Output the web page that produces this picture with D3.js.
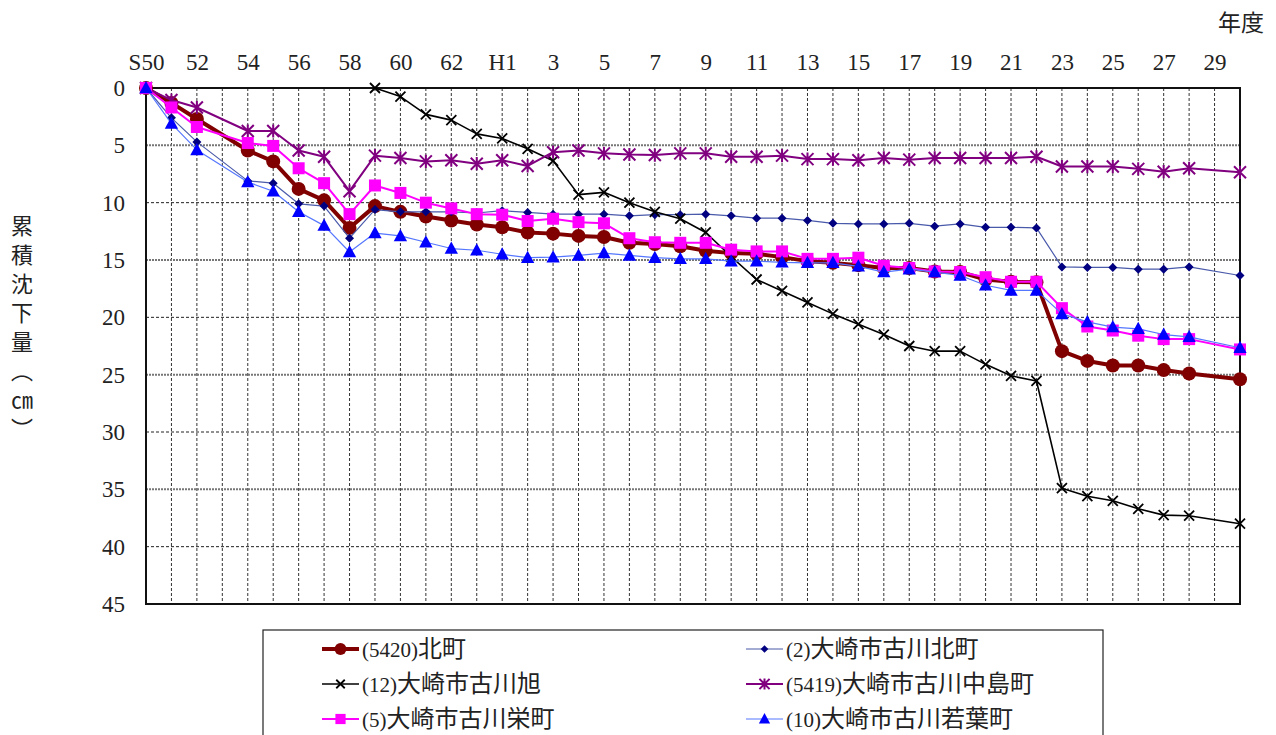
<!DOCTYPE html>
<html>
<head>
<meta charset="utf-8">
<script src="https://cdn.jsdelivr.net/npm/d3@7"></script>
<style>
  body { margin: 0; background: #fff; }
  svg text { font-family: "Liberation Serif", "Noto Sans CJK JP", serif; fill: #222; }
</style>
</head>
<body>
<div id="chart"></div>
<script>
// fiscal years S50 (1975) .. H30 (2018)
var years = [1975, 1976, 1977, 1978, 1979, 1980, 1981, 1982, 1983, 1984, 1985, 1986, 1987, 1988, 1989,
  1990, 1991, 1992, 1993, 1994, 1995, 1996, 1997, 1998, 1999, 2000, 2001, 2002, 2003, 2004, 2005,
  2006, 2007, 2008, 2009, 2010, 2011, 2012, 2013, 2014, 2015, 2016, 2017, 2018];

var tickYears = [1975, 1977, 1979, 1981, 1983, 1985, 1987, 1989, 1991, 1993, 1995, 1997, 1999, 2001,
  2003, 2005, 2007, 2009, 2011, 2013, 2015, 2017];
var tickLabels = ["S50", "52", "54", "56", "58", "60", "62", "H1", "3", "5", "7", "9", "11", "13",
  "15", "17", "19", "21", "23", "25", "27", "29"];

var yTicks = [0, 5, 10, 15, 20, 25, 30, 35, 40, 45];

// cumulative subsidence (cm), null = not surveyed
var kitamachi5420 = [0, 1.3, 2.7, null, 5.45, 6.4, 8.8, 9.8, 12.2, 10.3, 10.8, 11.2, 11.55, 11.9, 12.15,
  12.6, 12.7, 12.9, 13.0, 13.5, 13.6, 13.8, 14.2, 14.4, 14.45, 14.75, 15.1, 15.25, 15.45, 15.7, 15.7,
  16.0, 16.05, 16.7, 16.9, 16.95, 22.95, 23.8, 24.2, 24.2, 24.6, 24.9, null, 25.4];
var kitamachi2 = [0, 2.6, 4.7, null, 8.1, 8.3, 10.1, 10.3, 13.1, 10.6, 10.8, 10.8, 10.8, 10.9, 10.7,
  10.85, 11.0, 11.0, 11.0, 11.15, 11.05, 11.05, 11.0, 11.15, 11.35, 11.35, 11.55, 11.8, 11.85, 11.85, 11.8,
  12.05, 11.85, 12.15, 12.15, 12.2, 15.6, 15.65, 15.65, 15.8, 15.8, 15.6, null, 16.35];
var asahi12 = [null, null, null, null, null, null, null, null, null, 0, 0.75, 2.3, 2.8, 4.0, 4.4,
  5.3, 6.35, 9.3, 9.1, 10.0, 10.8, 11.4, 12.6, 14.7, 16.7, 17.7, 18.7, 19.7, 20.6, 21.5, 22.5,
  22.95, 22.95, 24.1, 25.1, 25.55, 34.9, 35.6, 36.0, 36.7, 37.25, 37.3, null, 38.0];
var nakajima5419 = [0, 1.05, 1.7, null, 3.75, 3.75, 5.45, 6.0, 9.0, 5.9, 6.1, 6.4, 6.3, 6.6, 6.3,
  6.8, 5.6, 5.45, 5.7, 5.8, 5.85, 5.7, 5.7, 6.0, 6.0, 5.9, 6.2, 6.2, 6.3, 6.1, 6.25,
  6.1, 6.1, 6.1, 6.1, 6.0, 6.85, 6.85, 6.85, 7.05, 7.3, 7.0, null, 7.35];
var sakaemachi5 = [0, 1.7, 3.4, null, 4.8, 5.05, 7.0, 8.3, 11.0, 8.5, 9.15, 10.0, 10.5, 11.0, 11.05,
  11.6, 11.4, 11.7, 11.8, 13.1, 13.45, 13.5, 13.5, 14.1, 14.25, 14.25, 14.9, 14.9, 14.8, 15.5, 15.7,
  16.0, 16.05, 16.5, 16.9, 16.9, 19.2, 20.8, 21.15, 21.6, 21.9, 21.9, null, 22.8];
var wakaba10 = [0, 3.1, 5.4, null, 8.2, 9.0, 10.8, 12.0, 14.3, 12.65, 12.9, 13.45, 14.0, 14.15, 14.5,
  14.8, 14.75, 14.6, 14.4, 14.6, 14.8, 14.9, 14.9, 15.1, 15.1, 15.2, 15.25, 15.25, 15.55, 16.05, 15.8,
  16.05, 16.35, 17.2, 17.65, 17.65, 19.7, 20.4, 20.85, 21.0, 21.5, 21.7, null, 22.65];

var seriesNames = ["(5420)北町", "(2)大崎市古川北町", "(12)大崎市古川旭",
  "(5419)大崎市古川中島町", "(5)大崎市古川栄町", "(10)大崎市古川若葉町"];

var series = [
  {name: seriesNames[0], values: kitamachi5420, color: "#800000", width: 4, marker: "circle", size: 7},
  {name: seriesNames[1], values: kitamachi2, color: "#4a5aaa", mcolor: "#000080", width: 1.2, marker: "diamond", size: 4.5},
  {name: seriesNames[2], values: asahi12, color: "#000", width: 1.6, marker: "x", size: 5},
  {name: seriesNames[3], values: nakajima5419, color: "#800080", width: 2, marker: "star", size: 6},
  {name: seriesNames[4], values: sakaemachi5, color: "#ff00ff", width: 2, marker: "square", size: 6},
  {name: seriesNames[5], values: wakaba10, color: "#5577ff", mcolor: "#0000ff", width: 1.2, marker: "triangle", size: 7}
];

var W = 1276, H = 735;
var plotL = 146, plotR = 1240, plotT = 88, plotB = 604;

var svg = d3.select("#chart").append("svg")
  .attr("width", W)
  .attr("height", H);

var x = d3.scaleLinear().domain([1975, 2018]).range([plotL, plotR]);
var y = d3.scaleLinear().domain([0, 45]).range([plotT, plotB]);

// mixed text: latin runs in serif, kanji a bit larger
function mixedText(sel, str, latinSize, cjkSize) {
  var runs = str.match(/[\x00-\x7F]+|[^\x00-\x7F]+/g);
  runs.forEach(function(r) {
    var latin = /^[\x00-\x7F]/.test(r);
    sel.append("tspan")
      .attr("font-size", latin ? latinSize : cjkSize)
      .style("font-family", latin ? "'Liberation Serif', serif" : "'Noto Sans CJK JP', sans-serif")
      .text(r);
  });
}

// grid
svg.append("g").selectAll("line")
  .data(years.slice(1, -1))
  .enter().append("line")
  .attr("x1", d => x(d)).attr("x2", d => x(d))
  .attr("y1", plotT).attr("y2", plotB)
  .attr("stroke", "#333").attr("stroke-width", 1)
  .attr("stroke-dasharray", "3,2");

svg.append("g").selectAll("line")
  .data(yTicks.slice(1, -1))
  .enter().append("line")
  .attr("x1", plotL).attr("x2", plotR)
  .attr("y1", d => y(d)).attr("y2", d => y(d))
  .attr("stroke", d => d % 10 == 0 ? "#222" : "#777")
  .attr("stroke-width", d => d % 10 == 0 ? 1 : 2)
  .attr("stroke-dasharray", d => d % 10 == 0 ? "3,2" : "2,1");

// frame
svg.append("rect")
  .attr("x", plotL).attr("y", plotT)
  .attr("width", plotR - plotL).attr("height", plotB - plotT)
  .attr("fill", "none").attr("stroke", "#111").attr("stroke-width", 2);

// axes labels (top x, left y)
var xAxis = d3.axisTop(x).tickValues(tickYears)
  .tickFormat((d, i) => tickLabels[i]).tickSize(0).tickPadding(18);
var gx = svg.append("g").attr("transform", "translate(0," + plotT + ")").call(xAxis);
gx.select(".domain").remove();
gx.selectAll("text").attr("font-size", 23).attr("fill", "#222")
  .style("font-family", "'Liberation Serif', serif");

var yAxis = d3.axisLeft(y).tickValues(yTicks).tickSize(0).tickPadding(21);
var gy = svg.append("g").attr("transform", "translate(" + plotL + ",0)").call(yAxis);
gy.select(".domain").remove();
gy.selectAll("text").attr("font-size", 23).attr("fill", "#222")
  .style("font-family", "'Liberation Serif', serif");

svg.append("text")
  .attr("x", 1264).attr("y", 31)
  .attr("text-anchor", "end")
  .attr("font-size", 23)
  .style("font-family", "'Noto Sans CJK JP', sans-serif")
  .text("年度");

// vertical y title
var titleChars = ["累", "積", "沈", "下", "量", "︵", "㎝", "︶"];
svg.append("g").selectAll("text")
  .data(titleChars)
  .enter().append("text")
  .attr("x", 22)
  .attr("y", (d, i) => 234 + i * 29)
  .attr("text-anchor", "middle")
  .attr("font-size", 22)
  .style("font-family", "'Noto Sans CJK JP', sans-serif")
  .text(d => d);

// markers
function drawMarker(g, type, size, color) {
  if (type == "circle") {
    g.append("circle").attr("r", size).attr("fill", color);
  } else if (type == "square") {
    g.append("rect").attr("x", -size).attr("y", -size)
      .attr("width", size * 2).attr("height", size * 2).attr("fill", color);
  } else if (type == "diamond") {
    g.append("path").attr("d", "M0," + (-size) + "L" + size + ",0L0," + size + "L" + (-size) + ",0Z")
      .attr("fill", color);
  } else if (type == "triangle") {
    g.append("path").attr("d", "M0," + (-size) + "L" + (size * 0.95) + "," + (size * 0.75) + "L" + (-size * 0.95) + "," + (size * 0.75) + "Z")
      .attr("fill", color);
  } else if (type == "x") {
    g.append("path").attr("d", "M" + (-size) + "," + (-size) + "L" + size + "," + size + "M" + size + "," + (-size) + "L" + (-size) + "," + size)
      .attr("stroke", color).attr("stroke-width", 1.8);
  } else if (type == "star") {
    g.append("path").attr("d", "M" + (-size) + "," + (-size) + "L" + size + "," + size + "M" + size + "," + (-size) + "L" + (-size) + "," + size + "M0," + (-size * 1.1) + "L0," + (size * 1.1))
      .attr("stroke", color).attr("stroke-width", 2);
  }
}

var line = d3.line().x(d => x(d.year)).y(d => y(d.v));

series.forEach(function(s) {
  var pts = years.map((yr, i) => ({year: yr, v: s.values[i]})).filter(d => d.v != null);
  var g = svg.append("g");
  g.append("path")
    .attr("d", line(pts))
    .attr("fill", "none")
    .attr("stroke", s.color)
    .attr("stroke-width", s.width)
    .attr("stroke-linejoin", "round");
  g.selectAll("g.m")
    .data(pts)
    .enter().append("g")
    .attr("class", "m")
    .attr("transform", d => "translate(" + x(d.year) + "," + y(d.v) + ")")
    .each(function() { drawMarker(d3.select(this), s.marker, s.size, s.mcolor || s.color); });
});

// legend
var legend = svg.append("g");
legend.append("rect")
  .attr("x", 263).attr("y", 630)
  .attr("width", 840).attr("height", 130)
  .attr("fill", "#fff").attr("stroke", "#222").attr("stroke-width", 1.2);

var legX = [322, 746], legY = [649, 684, 719];
series.forEach(function(s, i) {
  var lx = legX[i % 2], ly = legY[Math.floor(i / 2)];
  var g = legend.append("g").attr("transform", "translate(" + lx + "," + ly + ")");
  g.append("line").attr("x1", 0).attr("x2", 37).attr("y1", 0).attr("y2", 0)
    .attr("stroke", s.color).attr("stroke-width", s.width);
  var m = g.append("g").attr("transform", "translate(18.5,0)");
  drawMarker(m, s.marker, s.size * 0.85, s.mcolor || s.color);
  var t = g.append("text").attr("x", 40).attr("y", 8);
  mixedText(t, s.name, 21, 24);
});
</script>
</body>
</html>
